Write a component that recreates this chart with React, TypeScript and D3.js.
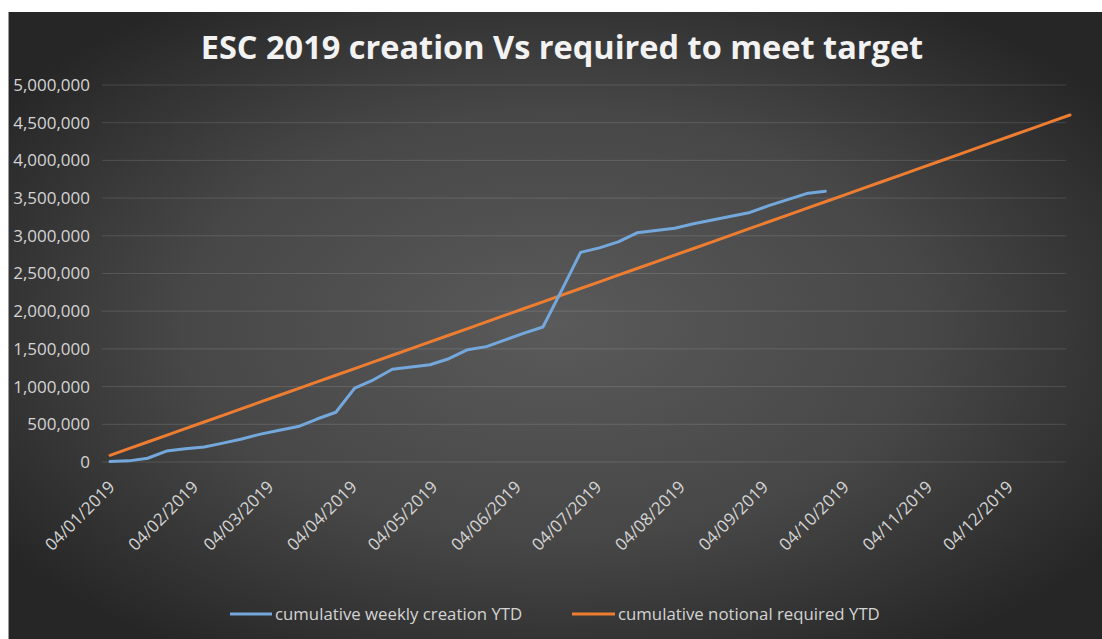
import React from "react";
import * as d3 from "d3";

const TITLE = "ESC 2019 creation Vs required to meet target";
const SERIES_NAMES = ["cumulative weekly creation YTD", "cumulative notional required YTD"];

// Weekly dates (Fridays) from 04/01/2019 to 27/12/2019
const weekDates: Date[] = d3.timeFriday.range(new Date(2019, 0, 4), new Date(2019, 11, 28));

const weeklyCreation = [
  5000, 15000, 50000, 145000, 175000, 200000, 250000, 305000, 370000, 420000,
  470000, 570000, 660000, 980000, 1090000, 1230000, 1260000, 1290000, 1370000, 1490000,
  1530000, 1620000, 1710000, 1790000, 2280000, 2780000, 2840000, 2920000, 3040000, 3070000,
  3100000, 3160000, 3210000, 3260000, 3310000, 3400000, 3480000, 3560000, 3590000,
];

const notionalRequired = [
  88500, 177000, 265500, 354000, 442500, 531000, 619500, 708000, 796500, 885000,
  973500, 1062000, 1150500, 1239000, 1327500, 1416000, 1504500, 1593000, 1681500, 1770000,
  1858500, 1947000, 2035500, 2124000, 2212500, 2301000, 2389500, 2478000, 2566500, 2655000,
  2743500, 2832000, 2920500, 3009000, 3097500, 3186000, 3274500, 3363000, 3451500, 3540000,
  3628500, 3717000, 3805500, 3894000, 3982500, 4071000, 4159500, 4248000, 4336500, 4425000,
  4513500, 4602000,
];

const yTicks = [0, 500000, 1000000, 1500000, 2000000, 2500000, 3000000, 3500000, 4000000, 4500000, 5000000];
const xTickLabels = [
  "04/01/2019", "04/02/2019", "04/03/2019", "04/04/2019", "04/05/2019", "04/06/2019",
  "04/07/2019", "04/08/2019", "04/09/2019", "04/10/2019", "04/11/2019", "04/12/2019",
];

const W = 1102;
const H = 639;
const FONT = "'Open Sans', 'DejaVu Sans', sans-serif";

export default function App() {
  const parse = d3.timeParse("%d/%m/%Y");
  const x = d3
    .scaleTime()
    .domain([weekDates[0], weekDates[weekDates.length - 1]])
    .range([110, 1070]);
  const y = d3.scaleLinear().domain([0, 5000000]).range([462, 85]);
  const fmt = d3.format(",");

  const line = d3
    .line<number>()
    .x((_, i) => x(weekDates[i]))
    .y((d) => y(d));

  const blue = "#74a8dc";
  const orange = "#ed7d31";

  return (
    <svg
      width={W}
      height={H}
      style={{ position: "absolute", left: 0, top: 0, display: "block" }}
    >
      <defs>
        <radialGradient id="bg" cx="0.5" cy="0.5" r="0.62">
          <stop offset="0" stopColor="#5a5a5a" />
          <stop offset="0.55" stopColor="#474747" />
          <stop offset="1" stopColor="#262626" />
        </radialGradient>
      </defs>
      <rect x={0} y={0} width={W} height={H} fill="#ffffff" />
      <rect x={8} y={12} width={W - 8} height={H - 12} fill="url(#bg)" />
      <line x1={8.5} x2={8.5} y1={12} y2={H} stroke="#9a9a9a" strokeWidth={1} />

      <text
        x={562}
        y={59}
        textAnchor="middle"
        fontFamily={FONT}
        fontWeight={700}
        fontSize={32.5}
        fill="#f2f2f2"
      >
        {TITLE}
      </text>

      {yTicks.map((t) => (
        <g key={t}>
          <line
            x1={102}
            x2={1066}
            y1={y(t)}
            y2={y(t)}
            stroke="rgba(255,255,255,0.13)"
            strokeWidth={1}
          />
          <text
            x={90}
            y={y(t)}
            dy="0.35em"
            textAnchor="end"
            fontFamily={FONT}
            fontSize={17}
            fill="#d4d4d4"
          >
            {fmt(t)}
          </text>
        </g>
      ))}

      {xTickLabels.map((lbl) => {
        const d = parse(lbl) as Date;
        const px = x(d);
        return (
          <text
            key={lbl}
            transform={`translate(${px + 6},${488}) rotate(-45)`}
            textAnchor="end"
            fontFamily={FONT}
            fontSize={17}
            fill="#d4d4d4"
          >
            {lbl}
          </text>
        );
      })}

      <path
        d={line(notionalRequired) || ""}
        fill="none"
        stroke={orange}
        strokeWidth={3}
        strokeLinejoin="round"
        strokeLinecap="round"
      />
      <path
        d={line(weeklyCreation) || ""}
        fill="none"
        stroke={blue}
        strokeWidth={3}
        strokeLinejoin="round"
        strokeLinecap="round"
      />

      <g>
        <line x1={230} x2={272} y1={614} y2={614} stroke={blue} strokeWidth={3} />
        <text x={275} y={614} dy="0.35em" fontFamily={FONT} fontSize={16.8} fill="#d4d4d4">
          {SERIES_NAMES[0]}
        </text>
        <line x1={572} x2={615} y1={614} y2={614} stroke={orange} strokeWidth={3} />
        <text x={618} y={614} dy="0.35em" fontFamily={FONT} fontSize={16.8} fill="#d4d4d4">
          {SERIES_NAMES[1]}
        </text>
      </g>
    </svg>
  );
}
